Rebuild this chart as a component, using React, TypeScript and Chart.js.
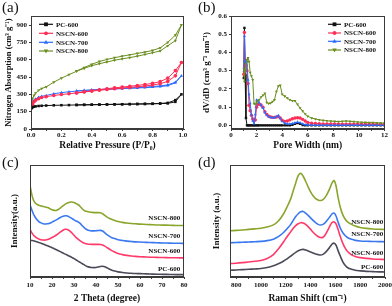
import React, { useEffect, useRef } from "react";
import { Chart, registerables } from "chart.js";
Chart.register(...registerables);

// ---------- DATA ----------
const SAMPLES = ["PC-600", "NSCN-600", "NSCN-700", "NSCN-800"];

// (a) N2 isotherms
const P_ADS = [0.005, 0.01, 0.02, 0.03, 0.05, 0.07, 0.1, 0.15, 0.2, 0.25, 0.3, 0.35, 0.4, 0.45, 0.5, 0.55, 0.6, 0.65, 0.7, 0.75, 0.8, 0.85, 0.9, 0.95, 0.99];
const P_DES = [0.95, 0.9, 0.85, 0.8, 0.75, 0.7, 0.65, 0.6, 0.55, 0.5, 0.45, 0.4, 0.35, 0.3];
const PC600_ADS = [180, 188, 193, 196, 199, 201, 203, 205, 206, 207, 208, 209, 210, 211, 212, 213, 214, 215, 216, 217, 218, 220, 222, 235, 300];
const PC600_DES = [250, 226, 221, 219, 217.5, 216.5, 215.5, 214.5, 213.5, 212.5, 211.5, 210.5, 209.5, 208.5];
const N600_ADS = [190, 215, 235, 248, 262, 272, 280, 290, 298, 305, 312, 320, 328, 335, 342, 348, 354, 360, 366, 372, 380, 392, 412, 460, 575];
const N600_DES = [505, 440, 410, 395, 385, 377, 370, 363, 356, 349, 340, 331, 322, 313];
const N700_ADS = [200, 225, 248, 260, 275, 283, 290, 305, 315, 322, 328, 333, 337, 340, 343, 346, 349, 352, 355, 358, 362, 367, 375, 400, 460];
const N700_DES = [405, 382, 373, 367, 362, 358, 355, 352, 349, 346, 342, 338, 334, 329];
const N800_ADS = [240, 265, 290, 310, 335, 350, 365, 405, 440, 470, 500, 525, 548, 565, 580, 595, 607, 618, 630, 645, 660, 675, 720, 765, 900];
const N800_DES = [812, 750, 702, 680, 666, 654, 642, 630, 617, 602, 584, 560, 532, 502];

// (b) pore size distribution
const W = [1.0, 1.05, 1.1, 1.17, 1.25, 1.33, 1.41, 1.5, 1.6, 1.7, 1.8, 1.9, 2.0, 2.1, 2.2, 2.35, 2.5, 2.65, 2.8, 2.95, 3.1, 3.25, 3.4, 3.55, 3.7, 3.85, 4.0, 4.2, 4.4, 4.6, 4.8, 5.0, 5.2, 5.4, 5.6, 5.8, 6.0, 6.3, 6.6, 6.9, 7.2, 7.5, 7.8, 8.1, 8.4, 8.7, 9.0, 9.3, 9.6, 9.9, 10.2, 10.5, 10.8, 11.1, 11.4, 11.7, 12.0];
const PSD_PC600 = [0.26, 0.535, 0.28, 0.04, 0, 0, 0, 0, 0, 0, 0, 0, 0, 0, 0, 0, 0, 0, 0, 0, 0, 0, 0, 0, 0, 0, 0, 0, 0, 0, 0.003, 0.008, 0.012, 0.008, 0.002, 0, 0, 0, 0, 0, 0, 0, 0, 0, 0, 0, 0, 0, 0, 0, 0, 0, 0, 0, 0, 0, 0];
const PSD_N600 = [0.28, 0.51, 0.36, 0.33, 0.3, 0.23, 0.11, 0.08, 0.055, 0.035, 0.025, 0.03, 0.1, 0.115, 0.117, 0.112, 0.1, 0.075, 0.06, 0.05, 0.046, 0.044, 0.044, 0.046, 0.048, 0.04, 0.028, 0.022, 0.024, 0.03, 0.036, 0.04, 0.042, 0.04, 0.033, 0.024, 0.016, 0.012, 0.01, 0.009, 0.008, 0.008, 0.008, 0.008, 0.007, 0.007, 0.007, 0.007, 0.007, 0.007, 0.006, 0.006, 0.006, 0.006, 0.006, 0.006, 0.006];
const PSD_N700 = [0.3, 0.49, 0.35, 0.34, 0.35, 0.25, 0.17, 0.12, 0.06, 0.025, 0.01, 0.06, 0.14, 0.135, 0.125, 0.11, 0.095, 0.07, 0.055, 0.048, 0.044, 0.042, 0.042, 0.048, 0.055, 0.038, 0.022, 0.012, 0.008, 0.008, 0.01, 0.014, 0.018, 0.015, 0.008, 0.004, 0.002, 0.001, 0.001, 0.001, 0.001, 0.001, 0.001, 0.001, 0.001, 0.001, 0.001, 0.001, 0.001, 0.001, 0.001, 0.001, 0.001, 0.001, 0.001, 0.001, 0.001];
const PSD_N800 = [0.31, 0.24, 0.3, 0.34, 0.36, 0.37, 0.35, 0.29, 0.27, 0.25, 0.12, 0.115, 0.125, 0.135, 0.14, 0.155, 0.165, 0.175, 0.125, 0.12, 0.122, 0.13, 0.14, 0.185, 0.215, 0.22, 0.17, 0.16, 0.15, 0.14, 0.135, 0.135, 0.115, 0.095, 0.078, 0.062, 0.05, 0.04, 0.035, 0.03, 0.027, 0.025, 0.023, 0.022, 0.02, 0.022, 0.024, 0.022, 0.02, 0.018, 0.017, 0.016, 0.015, 0.015, 0.014, 0.013, 0.012];

// (c) XRD
const THETA = [10, 11, 12, 13, 14, 15, 16, 17, 18, 19, 20, 21, 22, 23, 24, 25, 26, 27, 28, 29, 30, 31, 32, 33, 34, 35, 36, 37, 38, 39, 40, 41, 42, 43, 44, 45, 46, 47, 48, 50, 52, 54, 56, 58, 60, 63, 66, 69, 72, 75, 78, 80];
const XRD_N800 = [82, 72, 67, 65, 64, 63.5, 63, 62.5, 62, 61, 60, 59.5, 59.5, 60.5, 62, 63.5, 65, 66, 66.8, 67, 66.5, 65.5, 64.5, 62.5, 60.5, 59, 58.5, 58, 57.8, 57.5, 57.5, 57.5, 57.3, 56.5, 55, 53.5, 52.5, 51.5, 50.8, 49.5, 48.8, 48.2, 47.8, 47.5, 47.2, 46.9, 46.6, 46.4, 46.3, 46.1, 46, 46];
const XRD_N700 = [64.5, 59, 54.5, 51.5, 49.5, 48.3, 47.5, 47.3, 47.6, 48, 49, 50, 51, 52.2, 53.3, 54.2, 54.7, 54.5, 53.5, 52.3, 51, 50, 49, 47.5, 45.3, 43.5, 42.2, 41.5, 41.2, 41.2, 41.3, 41.5, 41.6, 41, 39.5, 37.8, 36.5, 35.3, 34.5, 33.3, 32.6, 32, 31.7, 31.4, 31.2, 30.9, 30.7, 30.5, 30.3, 30.2, 30.1, 30];
const XRD_N600 = [42.6, 39, 36.5, 35, 34, 33.3, 33, 33, 33.4, 34.2, 35.2, 36.3, 37.5, 39, 40.5, 41.8, 42.6, 42.4, 41.2, 39.4, 37.3, 35.2, 33.5, 32, 30.8, 30, 29.5, 29.2, 29.1, 29.1, 29.1, 29.1, 29, 28.5, 27.6, 26.3, 25, 23.8, 22.8, 21, 20, 19.3, 18.8, 18.4, 18.1, 17.8, 17.6, 17.4, 17.3, 17.2, 17.1, 17.1];
const XRD_PC600 = [33, 32.6, 32.1, 31.5, 30.9, 30.2, 29.4, 28.6, 27.8, 27, 26.2, 25.3, 24.4, 23.4, 22.4, 21.4, 20.4, 19.5, 18.6, 17.5, 16.4, 15.2, 14, 12.8, 11.6, 10.4, 9.4, 8.8, 8.5, 8.4, 8.5, 8.9, 9.4, 9.6, 9.2, 8.2, 7.2, 6.2, 5.5, 4.6, 4, 3.6, 3.3, 3.1, 3, 2.8, 2.6, 2.4, 2.3, 2.2, 2.1, 2.1];

// (d) Raman
const SHIFT = [750, 800, 850, 900, 950, 1000, 1050, 1100, 1140, 1180, 1210, 1240, 1260, 1280, 1300, 1320, 1340, 1360, 1380, 1400, 1420, 1440, 1460, 1480, 1500, 1520, 1540, 1560, 1575, 1590, 1605, 1620, 1640, 1660, 1680, 1700, 1730, 1760, 1800, 1850, 1900, 1950, 2000];
const RAM_N800 = [41.3, 41.6, 42, 42.5, 43, 43.6, 44.6, 46.5, 50, 56, 62.5, 70, 77, 84, 90.5, 92.5, 90, 85.5, 80.5, 76, 72.5, 70, 68.8, 68.3, 69, 71.5, 75.5, 80.5, 84.5, 86, 81.5, 72, 62, 55.5, 51.5, 49, 47, 45.5, 44.2, 43.4, 42.9, 42.6, 42.4];
const RAM_N700 = [30.6, 30.8, 31, 31.2, 31.5, 31.8, 32.5, 33.8, 36, 39.5, 43, 47, 50.5, 54, 56.5, 58.2, 58.5, 57, 55, 52.8, 50.5, 48.5, 47, 46.4, 47, 48.8, 51.5, 54.5, 56.5, 57, 54.5, 49.5, 43.5, 39.5, 36.8, 35, 33.6, 32.7, 32.2, 31.9, 31.7, 31.6, 31.5];
const RAM_N600 = [12, 12.3, 12.8, 13.4, 14, 14.8, 16.5, 20, 25, 31, 36, 40.5, 43.5, 45.8, 47.5, 48.5, 48.3, 47, 45, 42.5, 40, 37.8, 36.2, 35.2, 35.5, 38, 42, 46.5, 48.8, 49.2, 47.5, 43, 36, 30, 25.5, 22.5, 19.8, 18.4, 17.3, 16.6, 16.1, 15.8, 15.6];
const RAM_PC600 = [6, 6.3, 6.6, 6.9, 7.2, 7.6, 8.5, 10, 11.8, 14, 16.2, 18.6, 20.4, 22, 23.4, 24.4, 24.7, 24.2, 23.3, 22.4, 21.5, 20.6, 20, 19.6, 20.2, 22, 24.5, 27.5, 29.5, 30.2, 28.5, 24, 18.5, 13.5, 10.3, 8.3, 6.9, 6, 5.5, 5, 4.8, 4.6, 4.5];

// tick values
const TICKS_A_X = [0, 0.1, 0.2, 0.3, 0.4, 0.5, 0.6, 0.7, 0.8, 0.9, 1.0];
const TICKS_A_Y = [0, 150, 300, 450, 600, 750, 900];
const TICKS_B_X = [0, 1, 2, 3, 4, 5, 6, 7, 8, 9, 10, 11, 12];
const TICKS_B_Y = [0, 0.1, 0.2, 0.3, 0.4, 0.5, 0.6];
const TICKS_C_X = [10, 15, 20, 25, 30, 35, 40, 45, 50, 55, 60, 65, 70, 75, 80];
const TICKS_D_X = [800, 900, 1000, 1100, 1200, 1300, 1400, 1500, 1600, 1700, 1800, 1900, 2000];

// ---------- STYLE ----------
const FONT = "'Liberation Serif', 'Times New Roman', serif";
const COL_A = ["#111111", "#ff2d55", "#2b6bff", "#6b8e1f"];
const COL_C = ["#4a4a58", "#ff3a6a", "#3a78f0", "#8aa52c"];
const PSTYLE = ["rect", "circle", "triangle", "triangle"];
const PROT = [0, 0, 0, 180];

const pts = (xs: number[], ys: number[]) => xs.map((x, i) => ({ x, y: ys[i] }));

function drawMarker(ctx: CanvasRenderingContext2D, style: string, rot: number, x: number, y: number, r: number) {
  ctx.beginPath();
  if (style === "rect") {
    ctx.rect(x - r, y - r, 2 * r, 2 * r);
  } else if (style === "circle") {
    ctx.arc(x, y, r, 0, Math.PI * 2);
  } else {
    const s = rot === 180 ? -1 : 1;
    ctx.moveTo(x, y - s * r * 1.25);
    ctx.lineTo(x - r * 1.15, y + s * r * 0.75);
    ctx.lineTo(x + r * 1.15, y + s * r * 0.75);
    ctx.closePath();
  }
  ctx.fill();
}

type Deco = {
  label: string;
  labelY: number;
  legend?: { x0: number; x1: number; tx: number; ys: number[] };
  tags?: { text: string; x: number; y: number }[];
};

function decoPlugin(d: Deco) {
  return {
    id: "deco",
    afterDraw(chart: any) {
      const { ctx, chartArea: a } = chart;
      ctx.save();
      ctx.strokeStyle = "#3a3a3a";
      ctx.lineWidth = 1;
      ctx.strokeRect(Math.round(a.left) + 0.5, Math.round(a.top) + 0.5, Math.round(a.right - a.left) - 1, Math.round(a.bottom - a.top) - 1);
      ctx.fillStyle = "#111";
      ctx.font = `15px ${FONT}`;
      ctx.textAlign = "left";
      ctx.textBaseline = "alphabetic";
      ctx.fillText(d.label, 2, d.labelY);
      if (d.legend) {
        const L = d.legend;
        ctx.font = `bold 7px ${FONT}`;
        ctx.textBaseline = "middle";
        chart.data.datasets.forEach((ds: any, i: number) => {
          const y = L.ys[i];
          ctx.strokeStyle = ds.borderColor;
          ctx.fillStyle = ds.borderColor;
          ctx.lineWidth = 1.2;
          ctx.beginPath();
          ctx.moveTo(L.x0, y);
          ctx.lineTo(L.x1, y);
          ctx.stroke();
          drawMarker(ctx, ds.pointStyle, ds.pointRotation || 0, (L.x0 + L.x1) / 2, y, 1.9);
          ctx.fillStyle = "#111";
          ctx.fillText(ds.label, L.tx, y + 0.5);
        });
      }
      if (d.tags) {
        ctx.font = `bold 7px ${FONT}`;
        ctx.textAlign = "right";
        ctx.textBaseline = "middle";
        ctx.fillStyle = "#111";
        d.tags.forEach((t) => {
          ctx.fillText(t.text, chart.scales.x.getPixelForValue(t.x), chart.scales.y.getPixelForValue(t.y));
        });
      }
      ctx.restore();
    },
  };
}

type AxisOpts = {
  xMin: number; xMax: number; xTicks: number[]; xFmt: (v: number) => string; xTitle: string; xTickPad: number; xTitlePad: number;
  yMin: number; yMax: number; yTicks: number[] | null; yFmt: (v: number) => string; yTitle: string; yTitlePad: number; yTitleSize: number;
  L: number; B: number;
};

function scales(o: AxisOpts) {
  const tickFont = { family: FONT, size: 7, weight: "bold" as const, lineHeight: 1 };
  const titleFont = { family: FONT, size: 9.5, weight: "bold" as const, lineHeight: 1 };
  return {
    x: {
      type: "linear" as const,
      min: o.xMin,
      max: o.xMax,
      afterBuildTicks: (s: any) => { s.ticks = o.xTicks.map((v) => ({ value: v })); },
      afterFit: (s: any) => { s.height = o.B; s.paddingLeft = 0; s.paddingRight = 0; },
      ticks: { callback: (v: any) => o.xFmt(Number(v)), font: tickFont, color: "#111", padding: o.xTickPad, autoSkip: false, maxRotation: 0, minRotation: 0 },
      grid: { display: true, drawOnChartArea: false, drawTicks: true, tickLength: 2, color: "#3a3a3a", lineWidth: 1 },
      border: { display: true, color: "#3a3a3a" },
      title: { display: true, text: o.xTitle, font: titleFont, color: "#111", padding: { top: 0, bottom: o.xTitlePad } },
    },
    y: {
      type: "linear" as const,
      min: o.yMin,
      max: o.yMax,
      afterBuildTicks: (s: any) => { s.ticks = (o.yTicks || []).map((v) => ({ value: v })); },
      afterFit: (s: any) => { s.width = o.L; s.paddingTop = 0; s.paddingBottom = 0; },
      ticks: { display: !!o.yTicks, callback: (v: any) => o.yFmt(Number(v)), font: tickFont, color: "#111", padding: 2, autoSkip: false },
      grid: { display: !!o.yTicks, drawOnChartArea: false, drawTicks: true, tickLength: 2, color: "#3a3a3a", lineWidth: 1 },
      border: { display: true, color: "#3a3a3a" },
      title: { display: true, text: o.yTitle, font: { ...titleFont, size: o.yTitleSize }, color: "#111", padding: { top: o.yTitlePad, bottom: 0 } },
    },
  };
}

const baseOpts = (R: number, T: number) => ({
  responsive: false,
  animation: false as const,
  devicePixelRatio: 1,
  layout: { padding: { left: 0, right: R, top: T, bottom: 0 } },
  plugins: { legend: { display: false }, tooltip: { enabled: false } },
});

function configA() {
  const ads = [PC600_ADS, N600_ADS, N700_ADS, N800_ADS];
  const des = [PC600_DES, N600_DES, N700_DES, N800_DES];
  return {
    type: "scatter" as const,
    data: {
      datasets: SAMPLES.map((name, i) => ({
        label: name,
        data: [...pts(P_ADS, ads[i]), ...pts(P_DES, des[i])],
        showLine: true,
        borderColor: COL_A[i],
        backgroundColor: COL_A[i],
        borderWidth: 1,
        pointStyle: PSTYLE[i],
        pointRotation: PROT[i],
        pointRadius: 1.8,
        pointBorderWidth: 0,
        tension: 0,
      })),
    },
    options: {
      ...baseOpts(12, 16),
      scales: scales({
        xMin: 0, xMax: 1.007, xTicks: TICKS_A_X, xFmt: (v) => (Math.round(v * 10) % 2 === 0 ? v.toFixed(1) : ""), xTitle: "Relative Pressure (P/P₀)", xTickPad: 1, xTitlePad: 2.5,
        yMin: 0, yMax: 978, yTicks: TICKS_A_Y, yFmt: (v) => String(v), yTitle: "Nitrogen Absorption (cm³ g⁻¹)", yTitlePad: 4.5, yTitleSize: 8.5,
        L: 31, B: 24,
      }),
    },
    plugins: [decoPlugin({ label: "(a)", labelY: 12, legend: { x0: 39, x1: 53, tx: 56, ys: [24.3, 33.3, 42.3, 51] } })],
  };
}

function configB() {
  const vals = [PSD_PC600, PSD_N600, PSD_N700, PSD_N800];
  return {
    type: "scatter" as const,
    data: {
      datasets: SAMPLES.map((name, i) => ({
        label: name,
        data: pts(W, vals[i]),
        showLine: true,
        borderColor: COL_A[i],
        backgroundColor: COL_A[i],
        borderWidth: 1,
        pointStyle: PSTYLE[i],
        pointRotation: PROT[i],
        pointRadius: 1.7,
        pointBorderWidth: 0,
        tension: 0,
        order: 4 - i,
      })),
    },
    options: {
      ...baseOpts(7.5, 16),
      scales: scales({
        xMin: 0, xMax: 12, xTicks: TICKS_B_X, xFmt: (v) => (v % 2 === 0 ? String(v) : ""), xTitle: "Pore Width (nm)", xTickPad: 1, xTitlePad: 2.5,
        yMin: -0.02, yMax: 0.6, yTicks: TICKS_B_Y, yFmt: (v) => v.toFixed(1), yTitle: "dV/dD (cm³ g⁻¹ nm⁻¹)", yTitlePad: 6, yTitleSize: 9,
        L: 35, B: 24,
      }),
    },
    plugins: [decoPlugin({ label: "(b)", labelY: 12, legend: { x0: 132, x1: 145, tx: 148, ys: [24.3, 33, 41.3, 50] } })],
  };
}

function configC() {
  const vals = [XRD_PC600, XRD_N600, XRD_N700, XRD_N800];
  return {
    type: "scatter" as const,
    data: {
      datasets: SAMPLES.map((name, i) => ({
        label: name,
        data: pts(THETA, vals[i]),
        showLine: true,
        borderColor: COL_C[i],
        borderWidth: 1.6,
        pointRadius: 0,
        tension: 0.3,
      })),
    },
    options: {
      ...baseOpts(12, 12),
      scales: scales({
        xMin: 10, xMax: 80, xTicks: TICKS_C_X, xFmt: (v) => (v % 10 === 0 ? String(v) : ""), xTitle: "2 Theta (degree)", xTickPad: 3, xTitlePad: 2.5,
        yMin: 0, yMax: 100, yTicks: null, yFmt: (v) => String(v), yTitle: "Intensity(a.u.)", yTitlePad: 10.5, yTitleSize: 9,
        L: 30, B: 29,
      }),
    },
    plugins: [decoPlugin({
      label: "(c)", labelY: 14,
      tags: [
        { text: "NSCN-800", x: 78.3, y: 52.5 },
        { text: "NSCN-700", x: 78.3, y: 36.6 },
        { text: "NSCN-600", x: 78.3, y: 23.4 },
        { text: "PC-600", x: 78.3, y: 6.6 },
      ],
    })],
  };
}

function configD() {
  const vals = [RAM_PC600, RAM_N600, RAM_N700, RAM_N800];
  return {
    type: "scatter" as const,
    data: {
      datasets: SAMPLES.map((name, i) => ({
        label: name,
        data: pts(SHIFT, vals[i]),
        showLine: true,
        borderColor: COL_C[i],
        borderWidth: 1.6,
        pointRadius: 0,
        tension: 0.3,
      })),
    },
    options: {
      ...baseOpts(7, 12),
      scales: scales({
        xMin: 750, xMax: 2000, xTicks: TICKS_D_X, xFmt: (v) => (v % 200 === 0 ? String(v) : ""), xTitle: "Raman Shift (cm⁻¹)", xTickPad: 3, xTitlePad: 2.5,
        yMin: 0, yMax: 100, yTicks: null, yFmt: (v) => String(v), yTitle: "Intensity (a.u.)", yTitlePad: 16.5, yTitleSize: 9,
        L: 34, B: 29,
      }),
    },
    plugins: [decoPlugin({
      label: "(d)", labelY: 14,
      tags: [
        { text: "NSCN-800", x: 1985, y: 49 },
        { text: "NSCN-700", x: 1985, y: 38.4 },
        { text: "NSCN-600", x: 1985, y: 21 },
        { text: "PC-600", x: 1985, y: 8.4 },
      ],
    })],
  };
}

function Panel({ make, left, top }: { make: () => any; left: number; top: number }) {
  const ref = useRef<HTMLCanvasElement | null>(null);
  useEffect(() => {
    if (!ref.current) return;
    const chart = new Chart(ref.current, make());
    return () => chart.destroy();
  }, [make]);
  return (
    <canvas
      ref={ref}
      width={196}
      height={153}
      style={{ position: "absolute", left, top, width: 196, height: 153 }}
    />
  );
}

export default function App() {
  return (
    <div style={{ position: "fixed", left: 0, top: 0, width: 392, height: 306, background: "#fff", overflow: "hidden" }}>
      <Panel make={configA} left={0} top={0} />
      <Panel make={configB} left={196} top={0} />
      <Panel make={configC} left={0} top={153} />
      <Panel make={configD} left={196} top={153} />
    </div>
  );
}
